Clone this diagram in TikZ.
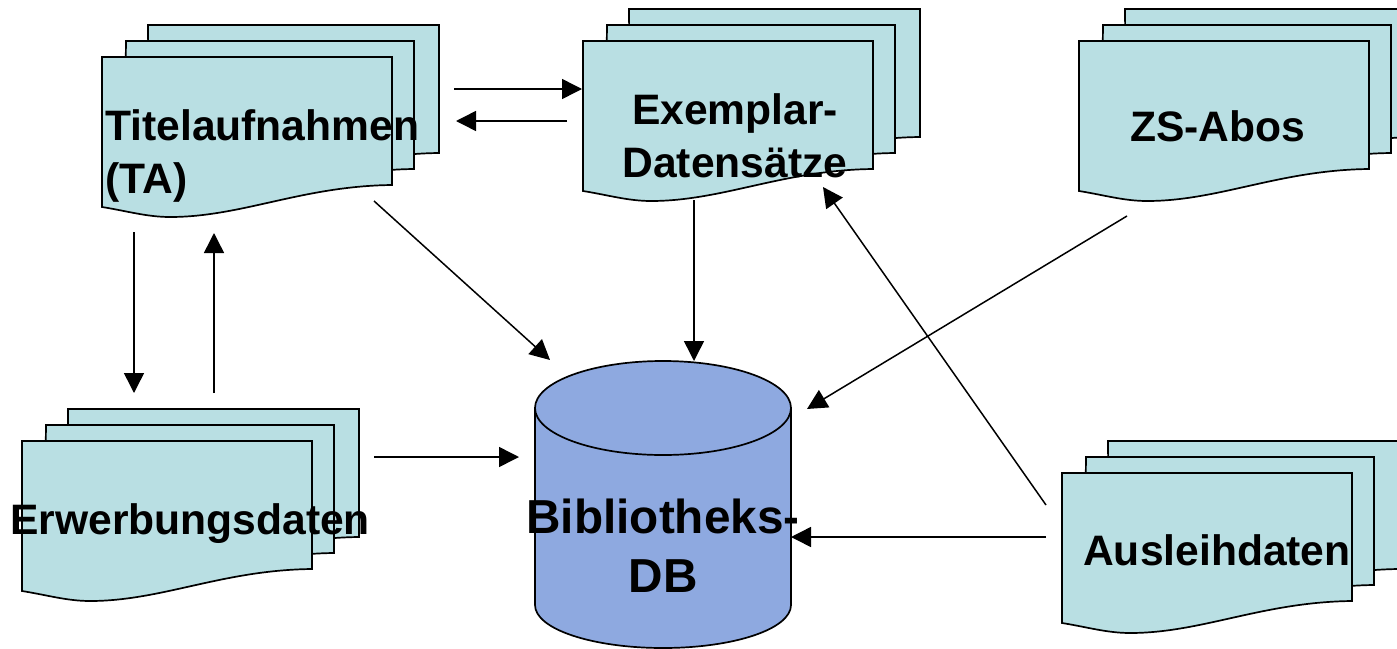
\documentclass[tikz,border=0pt]{standalone}
\usepackage{fontspec}
\setmainfont{Liberation Sans}
\usetikzlibrary{arrows.meta}
\definecolor{docfill}{HTML}{B9DFE3}
\definecolor{dbfill}{HTML}{8EA9E0}
\tikzset{
  docsheet/.style={draw=black,line width=1.7pt,fill=docfill,line join=miter},
  dbshape/.style={draw=black,line width=1.7pt,fill=dbfill},
  label/.style={anchor=base west,inner sep=0pt,font=\bfseries\fontsize{42.6}{48}\selectfont},
  dblabel/.style={anchor=base,inner sep=0pt,font=\bfseries\fontsize{47.7}{54}\selectfont},
  conn/.style={draw=black,line width=1.5pt,-{Triangle[length=20pt,width=20pt]}}
}
\newcommand{\docsheet}[3]{% x, y, width
  \draw[docsheet,shift={(#1,#2)}] (0,0) -- (#3,0) -- (#3,128)
    .. controls ({#3-90},129) and ({#3-150},160) .. ({#3-222},160)
    .. controls ({#3-245},160) and ({#3-265},154) .. ({#3-290},150) -- cycle;
}
\newcommand{\docstack}[2]{% front sheet top-left
  \docsheet{#1+46}{#2-32}{291}
  \docsheet{#1+24}{#2-16}{288}
  \docsheet{#1}{#2}{290}
}
\begin{document}
\begin{tikzpicture}[x=1pt,y=-1pt]
\useasboundingbox (0,0) rectangle (1397,648);
\clip (0,0) rectangle (1397,648);
\docstack{102}{57}
\docstack{583}{41}
\docstack{1079}{41}
\docstack{22}{441}
\docstack{1062}{473}
% database
\path[dbshape] (535,408) -- (535,605) .. controls (535,629) and (592,648) .. (663,648) .. controls (734,648) and (791,629) .. (791,605) -- (791,408) -- cycle;
\path[dbshape] (663,408) ellipse[x radius=128,y radius=47];
% labels
\node[label] (ta1) at (105,140.5) {Titelaufnahmen};
\node[label] (ta2) at (105,193) {(TA)};
\node[label,anchor=base] (ex1) at (735,124) {Exemplar-};
\node[label,anchor=base] (ex2) at (735,177) {Datensätze};
\node[label] (zs) at (1130,141) {ZS-Abos};
\node[label] (erw) at (10,534) {Erwerbungsdaten};
\node[label] (aus) at (1083,565) {Ausleihdaten};
\node[dblabel] (db1) at (663,533) {Bibliotheks-};
\node[dblabel] (db2) at (663,592) {DB};
% connector ends
\coordinate (a1) at (454,89);   \coordinate (a2) at (582,89);
\coordinate (b1) at (567,121);  \coordinate (b2) at (456,121);
\coordinate (c1) at (134,232);  \coordinate (c2) at (134,393);
\coordinate (d1) at (214,393);  \coordinate (d2) at (214,233);
\coordinate (e1) at (374,201);  \coordinate (e2) at (550,360);
\coordinate (f1) at (694,200);  \coordinate (f2) at (694,361);
\coordinate (g1) at (1127,216); \coordinate (g2) at (807,409);
\coordinate (h1) at (374,457);  \coordinate (h2) at (519,457);
\coordinate (i1) at (1046,537); \coordinate (i2) at (791,537);
\coordinate (j1) at (1046,505); \coordinate (j2) at (823,187);
\foreach \s/\t in {a1/a2,b1/b2,c1/c2,d1/d2,e1/e2,f1/f2,g1/g2,h1/h2,i1/i2,j1/j2}
  \draw[conn] (\s) -- (\t);
\end{tikzpicture}
\end{document}
